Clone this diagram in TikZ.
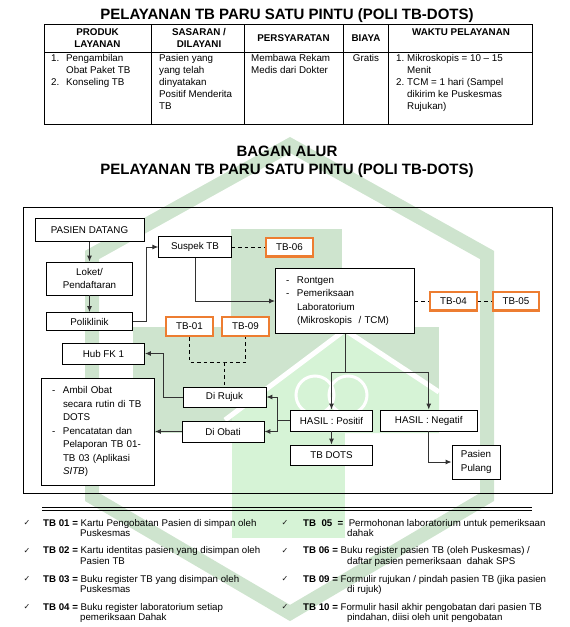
\documentclass[tikz,border=0pt]{standalone}
\usepackage{fontspec}
\setmainfont{Liberation Sans}
\newfontfamily\ckfont{DejaVu Sans}
\usetikzlibrary{arrows.meta}

\definecolor{tborange}{RGB}{237,125,49}
\definecolor{flowgray}{RGB}{50,50,50}
\definecolor{wmdark}{RGB}{206,228,206}
\definecolor{wmlight}{RGB}{214,243,214}

\newcommand{\boxfont}{\fontsize{9.8}{13.5}\selectfont}
\newcommand{\tabfont}{\fontsize{9.8}{12}\selectfont}
\newcommand{\legfont}{\fontsize{9.7}{11}\selectfont}
\newcommand{\titlefont}{\fontsize{15}{18}\selectfont\bfseries}

\begin{document}
\begin{tikzpicture}[x=1pt, y=-1pt,
    box/.style={draw, fill=white, line width=.8pt, inner sep=0pt, align=center, font=\boxfont},
    tbbox/.style={draw=tborange, fill=white, line width=2.4pt, inner sep=0pt,
      minimum width=46.5, minimum height=18.6, font=\boxfont},
    flow/.style={draw=flowgray, line width=1pt, -{Latex[length=6pt,width=5pt]}},
    link/.style={draw=flowgray, line width=1pt},
    dashline/.style={draw=black, line width=.9pt, dash pattern=on 3.5pt off 3pt},
    txt/.style={anchor=base west, inner sep=0pt, font=\tabfont},
    hd/.style={inner sep=0pt, align=center, font=\tabfont\bfseries},
    leg/.style={anchor=base west, inner sep=0pt, font=\legfont},
    tick/.style={inner sep=0pt, font=\ckfont\fontsize{8}{8}\selectfont, text=black!90},
    title/.style={anchor=base, inner sep=0pt, font=\titlefont}]
\useasboundingbox (0,0) rectangle (570,627);

% watermark
\fill[wmdark] (231,229) rectangle (342,433);
\fill[wmdark] (133,327) rectangle (439,433);
\fill[wmlight] (232,415) -- (345,330) -- (439,392) -- (439,433) -- (232,433) -- cycle;
\fill[wmlight] (232,433) rectangle (345,538);
\draw[white, line width=5pt] (225,420) -- (345,330) -- (439,392);
\draw[white, line width=3pt] (315,395) circle (19) (348,395) circle (19);
\draw[wmdark, line width=14pt] (290,145) -- (487,255) -- (487,497) -- (290,613) -- (92,497) -- (92,255) -- cycle;

% table
\node[title] (title1) at (287,19.4) {PELAYANAN TB PARU SATU PINTU (POLI TB-DOTS)};
\draw[line width=.8pt] (44,24) rectangle (532,124);
\draw[line width=.8pt] (44,52) -- (532,52);
\draw[line width=.8pt] (151,24) -- (151,124);
\draw[line width=.8pt] (244,24) -- (244,124);
\draw[line width=.8pt] (343,24) -- (343,124);
\draw[line width=.8pt] (388,24) -- (388,124);

\node[hd] (hprod) at (97.5,38) {PRODUK\\LAYANAN};
\node[hd] (hsas) at (199,38) {SASARAN /\\DILAYANI};
\node[hd] (hsyarat) at (293.5,38) {PERSYARATAN};
\node[hd] (hbiaya) at (366,38) {BIAYA};
\node[hd, anchor=base] (hwaktu) at (461,35.5) {WAKTU PELAYANAN};

\node[txt] (pa) at (51,61.5) {1.};
\node[txt] (pb) at (66,61.5) {Pengambilan};
\node[txt] (pc) at (66,73.5) {Obat Paket TB};
\node[txt] (pd) at (51,85.5) {2.};
\node[txt] (pe) at (66,85.5) {Konseling TB};
\node[txt] (sa) at (159,61.5) {Pasien yang};
\node[txt] (sb) at (159,73.5) {yang telah};
\node[txt] (sc) at (159,85.5) {dinyatakan};
\node[txt] (sd) at (159,97.5) {Positif Menderita};
\node[txt] (se) at (159,109.5) {TB};
\node[txt] (ra) at (251,61.5) {Membawa Rekam};
\node[txt] (rb) at (251,73.5) {Medis dari Dokter};
\node[txt, anchor=base] (ba) at (366,61.5) {Gratis};
\node[txt] (wa) at (396,61.5) {1.};
\node[txt] (wb) at (407,61.5) {Mikroskopis = 10 – 15};
\node[txt] (wc) at (407,73.5) {Menit};
\node[txt] (wd) at (396,85.5) {2.};
\node[txt] (we) at (407,85.5) {TCM = 1 hari (Sampel};
\node[txt] (wf) at (407,97.5) {dikirim ke Puskesmas};
\node[txt] (wg) at (407,109.5) {Rujukan)};

% bagan alur
\node[title] (title2) at (287,156.4) {BAGAN ALUR};
\node[title] (title3) at (287,174.4) {PELAYANAN TB PARU SATU PINTU (POLI TB-DOTS)};
\draw[line width=.9pt] (23,207) rectangle (552,493);

\node[box, minimum width=109, minimum height=23] (datang) at (89.5,230) {PASIEN DATANG};
\node[box, minimum width=86, minimum height=33] (loket) at (89.5,278.5) {Loket/\\Pendaftaran};
\node[box, minimum width=86, minimum height=18] (poli) at (89.5,321.5) {Poliklinik};
\node[box, minimum width=72.5, minimum height=20.5] (suspek) at (195,247) {Suspek TB};
\node[tbbox] (tb06) at (289.5,247) {TB-06};
\node[box, text width=118, inner xsep=10.5, minimum height=65, align=left] (lab) at (345,301)
  {\makebox[11pt][l]{-}Rontgen\\
   \makebox[11pt][l]{-}Pemeriksaan\\
   \hspace*{11pt}Laboratorium\\
   \hspace*{11pt}(Mikroskopis~ / TCM)};
\node[tbbox] (tb04) at (453.5,301) {TB-04};
\node[tbbox] (tb05) at (516,301) {TB-05};
\node[tbbox] (tb01) at (189.5,326.5) {TB-01};
\node[tbbox] (tb09) at (245.5,326.5) {TB-09};
\node[box, minimum width=82, minimum height=21] (hub) at (103.5,353.5) {Hub FK 1};
\node[box, text width=92, inner xsep=10.5, minimum height=107, align=left] (ambil) at (98,431.5)
  {\makebox[11pt][l]{-}Ambil Obat\\
   \hspace*{11pt}secara rutin di TB\\
   \hspace*{11pt}DOTS\\
   \makebox[11pt][l]{-}Pencatatan dan\\
   \hspace*{11pt}Pelaporan TB 01-\\
   \hspace*{11pt}TB 03 (Aplikasi\\
   \hspace*{11pt}\textit{SITB})};
\node[box, minimum width=83, minimum height=20] (rujuk) at (224.5,397) {Di Rujuk};
\node[box, minimum width=82, minimum height=21] (obati) at (223,431.5) {Di Obati};
\node[box, minimum width=82, minimum height=21] (pos) at (331.5,420.5) {HASIL : Positif};
\node[box, minimum width=97.5, minimum height=21] (neg) at (428.75,420.5) {HASIL : Negatif};
\node[box, minimum width=82, minimum height=20] (tbdots) at (331.5,455) {TB DOTS};
\node[box, minimum width=48.5, minimum height=34, align=left] (pulang) at (476.25,462) {Pasien\\Pulang};

\coordinate (join) at (224.5,362);
\coordinate (split) at (345,372);

\draw[flow] (datang) -- (loket);
\draw[flow] (loket) -- (poli);
\draw[flow] (poli.east) -- ++(13.5,0) |- (suspek.west);
\draw[flow] (suspek.south) |- (lab.west);
\draw[dashline] (suspek.east) -- (tb06.west);
\draw[dashline] (lab.east) -- (tb04.west);
\draw[dashline] (tb04.east) -- (tb05.west);
\draw[dashline] (tb01.south) |- (join) -| (tb09.south);
\draw[dashline] (join) -- (rujuk.north);
\draw[flow] (rujuk.west) -- ++(-19,0) |- (hub.east);
\draw[link] (lab.south) -- (split);
\draw[flow] (split) -| (pos.north);
\draw[flow] (split) -| (neg.north);
\draw[flow] (pos.west) -- ++(-13,0) |- (rujuk.east);
\draw[flow] (pos.west) -- ++(-13,0) |- (obati.east);
\draw[flow] (obati.west) -- (ambil.east |- obati.west);
\draw[flow] (pos) -- (tbdots);
\draw[flow] (neg.south) |- (pulang.west);

% keterangan
\draw[line width=.9pt] (42,507) -- (532,507);
\draw[line width=.9pt] (42,510) -- (532,510);

\node[tick] (c1) at (27,523) {✓};
\node[tick] (c2) at (27,551) {✓};
\node[tick] (c3) at (27,579) {✓};
\node[tick] (c4) at (27,607) {✓};
\node[tick] (c5) at (285,523) {✓};
\node[tick] (c6) at (285,551) {✓};
\node[tick] (c7) at (285,579) {✓};
\node[tick] (c8) at (285,607) {✓};

\node[leg] (l1a) at (43,526.5) {\textbf{TB 01 =} Kartu Pengobatan Pasien di simpan oleh};
\node[leg] (l1b) at (80,536.5) {Puskesmas};
\node[leg] (l2a) at (43,553.5) {\textbf{TB 02 =} Kartu identitas pasien yang disimpan oleh};
\node[leg] (l2b) at (80,564.5) {Pasien TB};
\node[leg] (l3a) at (43,582.5) {\textbf{TB 03 =} Buku register TB yang disimpan oleh};
\node[leg] (l3b) at (80,592.5) {Puskesmas};
\node[leg] (l4a) at (43,610.5) {\textbf{TB 04 =} Buku register laboratorium setiap};
\node[leg] (l4b) at (80,620.5) {pemeriksaan Dahak};
\node[leg] (r1a) at (303,526.5) {\textbf{TB~~05~~=}~~Permohonan laboratorium untuk pemeriksaan};
\node[leg] (r1b) at (347,536.5) {dahak};
\node[leg] (r2a) at (303,553.5) {\textbf{TB 06 =} Buku register pasien TB (oleh Puskesmas) /};
\node[leg] (r2b) at (347,564.5) {daftar pasien pemeriksaan~ dahak SPS};
\node[leg] (r3a) at (303,582.5) {\textbf{TB 09 =} Formulir rujukan / pindah pasien TB (jika pasien};
\node[leg] (r3b) at (347,592.5) {di rujuk)};
\node[leg] (r4a) at (303,610.5) {\textbf{TB 10 =} Formulir hasil akhir pengobatan dari pasien TB};
\node[leg] (r4b) at (347,620.5) {pindahan, diisi oleh unit pengobatan};
\end{tikzpicture}
\end{document}
